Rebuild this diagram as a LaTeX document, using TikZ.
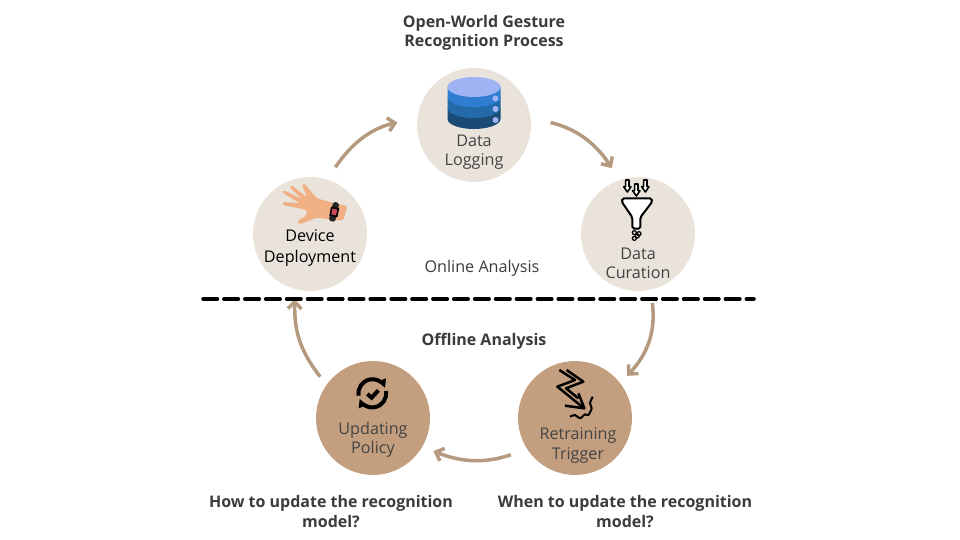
\documentclass[tikz,border=0pt]{standalone}
\usepackage{fontspec}
\setmainfont{Open Sans}
\usetikzlibrary{arrows,arrows.meta}
\definecolor{discbeige}{HTML}{E9E3DB}
\definecolor{discbrown}{HTML}{C39F7F}
\definecolor{looparrow}{HTML}{B59A80}
\definecolor{labelgray}{HTML}{444444}
\definecolor{titlegray}{HTML}{3B3B3B}
\definecolor{dbtop}{HTML}{A0B4F5}
\definecolor{dbone}{HTML}{2F7DD1}
\definecolor{dbtwo}{HTML}{256AA8}
\definecolor{dbthree}{HTML}{1A4B74}
\definecolor{skin}{HTML}{F0B083}
\definecolor{watchred}{HTML}{C9485A}
\tikzset{
  disc/.style={circle, minimum size=2.28cm, inner sep=0pt, outer sep=0.2cm},
  lightdisc/.style={disc, fill=discbeige},
  browndisc/.style={disc, fill=discbrown},
  lbl/.style={align=center, font=\fontsize{9.2}{10.9}\selectfont, text=labelgray},
  headline/.style={align=center, font=\fontsize{9.1}{11.2}\selectfont\bfseries, text=titlegray},
  cycleflow/.style={draw=looparrow, line width=0.07cm, -{Straight Barb[length=0.14cm, width=0.27cm]}},
  iconline/.style={black, line width=0.04cm, line join=round},
}
\begin{document}
\begin{tikzpicture}[x=0.02cm, y=-0.02cm]
    \useasboundingbox (0, 0) rectangle (960, 540);

    \node[lightdisc] (logging) at (474, 125) {};
    \node[lightdisc] (device) at (310, 234) {};
    \node[lightdisc] (curation) at (638, 234) {};
    \node[browndisc] (trigger) at (575, 418) {};
    \node[browndisc] (policy) at (373, 418) {};

    \draw[cycleflow, shorten <=0.09cm, shorten >=0.2cm] (device.70) to[bend left=22] (logging.176);
    \draw[cycleflow, shorten <=0.2cm, shorten >=0.08cm] (logging.4) to[bend left=22] (curation.111);
    \draw[cycleflow, shorten <=0.07cm] (curation.-78) to[bend left=25] (trigger.39);
    \draw[cycleflow, shorten <=0.14cm, shorten >=0.04cm] (trigger.211) to[bend left=20] (policy.-29);
    \draw[cycleflow] (policy.142) to[bend left=20] (device.-103);

    \coordinate (dashstart) at (203, 299);
    \coordinate (dashend) at (754, 299);
    \draw[black, line width=0.07cm, line cap=round, dash pattern=on 0.29cm off 0.128cm] (dashstart) -- (dashend);

    \node[headline] (title) at (484, 33) {Open-World Gesture\\Recognition Process};
    \node[lbl, text=titlegray] (online) at (482, 268) {Online Analysis};
    \node[headline] (offline) at (484, 341) {Offline Analysis};
    \node[headline] (howto) at (331, 511.5) {How to update the recognition\\model?};
    \node[headline] (whento) at (625, 511.5) {When to update the recognition\\model?};

    \node[lbl] (logginglabel) at (474, 152) {Data\\Logging};
    \node[lbl, text=black, font=\fontsize{9.2}{12.4}\selectfont] (devicelabel) at (310, 248) {Device\\Deployment};
    \node[lbl] (curationlabel) at (638, 263) {Data\\Curation};
    \node[lbl] (triggerlabel) at (578, 445.5) {Retraining\\Trigger};
    \node[lbl] (policylabel) at (373, 439.5) {Updating\\Policy};

    % database
    \fill[dbthree] (447.5, 108) -- (447.5, 119) arc (180:0:26.5 and 10) -- (500.5, 108) -- cycle;
    \fill[dbtwo] (447.5, 97) -- (447.5, 108) arc (180:0:26.5 and 10) -- (500.5, 97) -- cycle;
    \fill[dbone] (447.5, 87) -- (447.5, 97) arc (180:0:26.5 and 10) -- (500.5, 87) -- cycle;
    \fill[dbtop] (474, 87) ellipse (26.5 and 10);
    \fill[dbtop] (495.5, 98.5) circle (3);
    \fill[dbtop] (495.5, 109) circle (3);
    \fill[dbtop] (495.5, 120) circle (3);

    % hand with watch
    \begin{scope}[shift={(250, 170)}, scale=1/3]
        \fill[skin, rounded corners=1] (292, 108) -- (280, 152) -- (240, 148) -- (200, 143) -- (150, 163) -- (140, 155) -- (168, 138) -- (172, 120) -- (98, 105) -- (97, 96) -- (150, 100) -- (97, 68) -- (100, 60) -- (158, 88) -- (118, 52) -- (124, 45) -- (172, 82) -- (155, 45) -- (162, 39) -- (200, 85) -- (245, 97) -- cycle;
        \fill[black!85, rounded corners=1] (250, 95) -- (268, 99) -- (255, 156) -- (236, 152) -- cycle;
        \fill[black] (243, 110) -- (268, 114) -- (262, 142) -- (238, 138) -- cycle;
        \fill[watchred] (247, 116) -- (262, 119) -- (258, 136) -- (244, 133) -- cycle;
    \end{scope}

    % funnel
    \begin{scope}[shift={(575, 170)}, scale=1/3]
        \draw[iconline, fill=white, rounded corners=1] (142, 85) -- (230, 85) -- (232, 95) -- (196, 142) -- (196, 176) -- (172, 176) -- (172, 142) -- (140, 95) -- cycle;
        \foreach \ax/\ay in {157/30, 184/42, 211/30} {
            \draw[black, line width=0.032cm, line join=round, fill=white] (\ax-5, \ay) -- (\ax+5, \ay) -- (\ax+5, \ay+20) -- (\ax+11, \ay+20) -- (\ax, \ay+36) -- (\ax-11, \ay+20) -- (\ax-5, \ay+20) -- cycle;
        }
        \foreach \gx/\gy in {178/188, 192/191, 178/205, 187/198} {
            \draw[black, line width=0.025cm] (\gx, \gy) circle (6);
        }
    \end{scope}

    % lightning and crack
    \begin{scope}[shift={(510, 355)}, scale=1/3]
        \draw[iconline, line width=0.05cm] (148, 45) -- (195, 75) -- (142, 95) -- (220, 158);
        \draw[iconline, line width=0.05cm] (170, 45) -- (220, 80) -- (168, 100) -- (205, 130);
        \draw[iconline, line width=0.05cm] (205, 115) -- (223, 160) -- (165, 152);
        \draw[iconline] plot[smooth] coordinates {(180, 185) (195, 180) (210, 190) (225, 178) (235, 180) (245, 160) (240, 145) (248, 125)};
    \end{scope}

    % sync with check
    \begin{scope}[shift={(310, 355)}, scale=1/3]
        \draw[black, line width=0.08cm] (146, 122) arc (170:305:42);
        \draw[black, line width=0.08cm] (228, 108) arc (-10:125:42);
        \fill[black] (228, 70) -- (225, 98) -- (203, 80) -- cycle;
        \fill[black] (146, 160) -- (149, 132) -- (171, 150) -- cycle;
        \draw[black, line width=0.08cm] (172, 117) -- (185, 128) -- (205, 106);
    \end{scope}
\end{tikzpicture}
\end{document}
